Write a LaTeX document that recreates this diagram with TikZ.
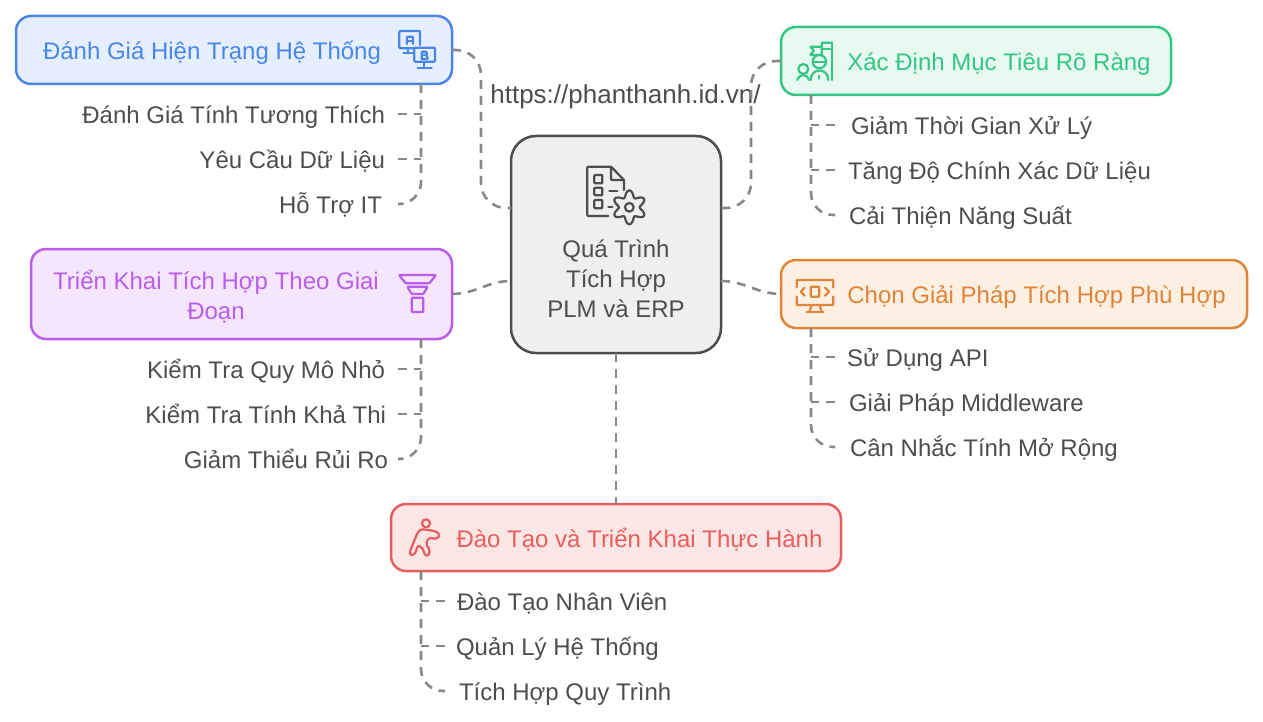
\documentclass[tikz,border=0pt]{standalone}
\usepackage{fontspec}
\setmainfont{Liberation Sans}
\usetikzlibrary{positioning,calc}
\definecolor{inkgray}{HTML}{4d4d4d}
\definecolor{linkgray}{HTML}{888888}
\definecolor{hubfill}{HTML}{efefef}
\definecolor{blueink}{HTML}{4a86e8}
\definecolor{bluefill}{HTML}{e5efff}
\definecolor{greenink}{HTML}{34c784}
\definecolor{greenfill}{HTML}{e8f9f1}
\definecolor{purpleink}{HTML}{b85ee8}
\definecolor{purplefill}{HTML}{f6e5ff}
\definecolor{orangeink}{HTML}{e08538}
\definecolor{orangefill}{HTML}{fdf0e3}
\definecolor{redink}{HTML}{e85d5d}
\definecolor{redfill}{HTML}{fde6e6}
\tikzset{
  txt/.style={font=\fontsize{24}{30}\selectfont, align=center, inner sep=0pt, outer sep=0pt},
  oneline/.style={text height=24pt, text depth=5pt},
  box/.style={txt, rectangle, rounded corners=15pt, line width=2.5pt},
  boxblue/.style={box, draw=blueink, fill=bluefill, text=blueink, oneline},
  boxgreen/.style={box, draw=greenink, fill=greenfill, text=greenink, oneline},
  boxpurple/.style={box, draw=purpleink, fill=purplefill, text=purpleink},
  boxorange/.style={box, draw=orangeink, fill=orangefill, text=orangeink, oneline},
  boxred/.style={box, draw=redink, fill=redfill, text=redink, oneline},
  hubbox/.style={box, rounded corners=25pt, draw=inkgray, fill=hubfill, text=inkgray},
  leafleft/.style={txt, oneline, text=inkgray, anchor=east, inner xsep=13pt},
  leafright/.style={txt, oneline, text=inkgray, anchor=west, inner xsep=13pt},
  link/.style={draw=linkgray, line width=2.6pt, dash pattern=on 9pt off 7pt},
  icon/.style={line width=2.2pt, line join=round, line cap=round, rounded corners=0.8pt}
}
\begin{document}
\begin{tikzpicture}[x=1pt,y=-1pt]
\useasboundingbox (0,0) rectangle (1263,722);
% hub and the five boxes
\node[hubbox, minimum width=210pt, minimum height=217pt] (hub) at (616,244.5)
  {\mbox{}\\[56pt]Quá Trình\\Tích Hợp\\PLM và ERP};
\node[boxblue, minimum width=436pt, minimum height=68pt] (assess) at (234,50)
  {Đánh Giá Hiện Trạng Hệ Thống\hspace*{44pt}};
\node[boxgreen, minimum width=390pt, minimum height=68pt] (goal) at (976,61)
  {\hspace*{46pt}Xác Định Mục Tiêu Rõ Ràng};
\node[boxpurple, minimum width=421pt, minimum height=90pt] (rollout) at (241.5,294)
  {\rule{0pt}{24pt}Triển Khai Tích Hợp Theo Giai\hspace*{51pt}\\Đoạn\hspace*{51pt}};
\node[boxorange, minimum width=466pt, minimum height=68pt] (choose) at (1014,294)
  {\hspace*{45pt}Chọn Giải Pháp Tích Hợp Phù Hợp};
\node[boxred, minimum width=450pt, minimum height=67pt] (train) at (616,537.5)
  {\hspace*{47pt}Đào Tạo và Triển Khai Thực Hành};
\node[txt, oneline, text=inkgray, font=\fontsize{26}{30}\selectfont] (url) at (625.5,94) {https://phanthanh.id.vn/};
% leaves
\node[leafleft] (assessA) at (398,114) {Đánh Giá Tính Tương Thích};
\node[leafleft] (assessB) at (398,159) {Yêu Cầu Dữ Liệu};
\node[leafleft, inner xsep=16pt] (assessC) at (398,204) {Hỗ Trợ IT};
\node[leafright, inner xsep=16pt] (goalA) at (835,125) {Giảm Thời Gian Xử Lý};
\node[leafright] (goalB) at (835,170) {Tăng Độ Chính Xác Dữ Liệu};
\node[leafright, inner xsep=14pt] (goalC) at (835,215) {Cải Thiện Năng Suất};
\node[leafleft] (rolloutA) at (398,369) {Kiểm Tra Quy Mô Nhỏ};
\node[leafleft, inner xsep=12pt] (rolloutB) at (398,414) {Kiểm Tra Tính Khả Thi};
\node[leafleft, inner xsep=10pt] (rolloutC) at (398,459) {Giảm Thiểu Rủi Ro};
\node[leafright, inner xsep=12pt] (chooseA) at (835,357) {Sử Dụng API};
\node[leafright, inner xsep=14pt] (chooseB) at (835,402) {Giải Pháp Middleware};
\node[leafright, inner xsep=15pt] (chooseC) at (835,447) {Cân Nhắc Tính Mở Rộng};
\node[leafright, inner xsep=12pt] (trainA) at (445,601) {Đào Tạo Nhân Viên};
\node[leafright, inner xsep=11pt] (trainB) at (445,646) {Quản Lý Hệ Thống};
\node[leafright, inner xsep=14pt] (trainC) at (445,691) {Tích Hợp Quy Trình};
% hub links
\coordinate (hubNW) at (511,208);
\coordinate (hubNE) at (721,208);
\coordinate (hubSW) at (511,281);
\coordinate (hubSE) at (721,281);
\coordinate (midL) at (481,130);
\coordinate (midR) at (751,130);
\draw[link, rounded corners=25pt] (assess.east) -| (midL) |- (hubNW);
\draw[link, rounded corners=25pt] (goal.west) -| (midR) |- (hubNE);
\draw[link] (rollout.east) to[out=0,in=180] (hubSW);
\draw[link] (hubSE) to[out=0,in=180] (choose.west);
\draw[link] (hub.south) -- (train.north);
% spines and leaf ticks
\coordinate (spineA) at (421,84);
\coordinate (spineB) at (811,95);
\coordinate (spineC) at (421,339);
\coordinate (spineD) at (811,328);
\coordinate (spineE) at (421,571);
\draw[link, rounded corners=22pt] (spineA) |- (assessC.east);
\draw[link, rounded corners=22pt] (spineB) |- (goalC.west);
\draw[link, rounded corners=22pt] (spineC) |- (rolloutC.east);
\draw[link, rounded corners=22pt] (spineD) |- (chooseC.west);
\draw[link, rounded corners=22pt] (spineE) |- (trainC.west);
\draw[link] (assessA.east) -- (spineA |- assessA.east);
\draw[link] (assessB.east) -- (spineA |- assessB.east);
\draw[link] (goalA.west) -- (spineB |- goalA.west);
\draw[link] (goalB.west) -- (spineB |- goalB.west);
\draw[link] (rolloutA.east) -- (spineC |- rolloutA.east);
\draw[link] (rolloutB.east) -- (spineC |- rolloutB.east);
\draw[link] (chooseA.west) -- (spineD |- chooseA.west);
\draw[link] (chooseB.west) -- (spineD |- chooseB.west);
\draw[link] (trainA.west) -- (spineE |- trainA.west);
\draw[link] (trainB.west) -- (spineE |- trainB.west);
% hub icon
\begin{scope}[shift={(500,120)}, scale=1/3, icon, draw=inkgray]
  \draw (372,210) -- (372,180) -- (333,140) -- (262,140) -- (262,288) -- (325,288);
  \draw (333,140) -- (333,180) -- (372,180);
  \draw (283,165) rectangle (307,190);
  \draw (283,203) rectangle (307,226);
  \draw (283,240) rectangle (307,265);
  \draw (328,214) -- (352,214);
  \draw (325,262) -- (337,262);
  \draw[rounded corners=0pt] plot[domain=0:354, samples=60, smooth cycle]
    ({388+(41-10*cos(6*\x))*cos(\x)},{262+(41-10*cos(6*\x))*sin(\x)});
  \draw (388,262) circle[radius=13];
\end{scope}
% assess icon
\begin{scope}[shift={(385,20)}, scale=1/3, icon, draw=blueink]
  \draw (105,75) -- (105,33) -- (43,33) -- (43,85) -- (85,85);
  \draw (70,85) -- (70,100);
  \draw (55,100) -- (85,100);
  \draw (88,83) rectangle (150,125);
  \draw (118,125) -- (118,143);
  \draw (98,143) -- (140,143);
  \draw (66,72) -- (66,50) -- (84,50) -- (84,72);
  \draw (66,62) -- (84,62);
  \draw (110,117) -- (110,95) -- (125,95) -- (125,105) -- (110,105);
  \draw (125,105) -- (129,117) -- (110,117);
\end{scope}
% goal icon
\begin{scope}[shift={(740,10)}, scale=1/3, icon, draw=greenink]
  \draw (275,98) -- (275,210);
  \draw (245,118) -- (245,98) -- (275,98);
  \draw (245,118) -- (275,118);
  \draw (245,110) -- (210,110) -- (222,122) -- (210,135) -- (245,135) -- (245,118);
  \draw (238,155) circle[radius=20];
  \draw (218,155) -- (258,155);
  \draw (212,210) .. controls (212,172) and (265,172) .. (265,210);
  \draw (238,198) -- (238,206);
  \draw (190,177) circle[radius=15];
  \draw (172,210) .. controls (180,190) and (200,190) .. (207,210);
\end{scope}
% rollout icon
\begin{scope}[shift={(370,250)}, scale=1/3, icon, draw=purpleink]
  \draw (87,75) -- (198,75) -- (178,100) -- (107,100) -- cycle;
  \draw (112,110) -- (173,110) -- (160,132) -- (125,132) -- cycle;
  \draw (125,143) rectangle (160,186);
\end{scope}
% choose icon
\begin{scope}[shift={(770,250)}, scale=1/3, icon, draw=orangeink]
  \draw (80,112) -- (80,90) -- (190,90) -- (190,112);
  \draw (80,140) -- (80,165) -- (190,165) -- (190,140);
  \draw (122,110) rectangle (148,140);
  \draw (104,113) -- (92,125) -- (104,137);
  \draw (165,113) -- (178,125) -- (165,137);
  \draw (125,165) -- (118,185);
  \draw (148,165) -- (155,185);
  \draw (110,185) -- (160,185);
\end{scope}
% train icon
\begin{scope}[shift={(380,495)}, scale=1/3, icon, rounded corners=2pt, draw=redink]
  \draw (138,85) circle[radius=12];
  \draw (122,102) -- (165,108) -- (180,118) -- (172,132) -- (145,128) -- (138,148)
    -- (150,165) -- (145,183) -- (132,180) -- (132,165) -- (115,150) -- (103,180)
    -- (90,180) -- (90,168) -- (112,115) -- cycle;
\end{scope}
\end{tikzpicture}
\end{document}
